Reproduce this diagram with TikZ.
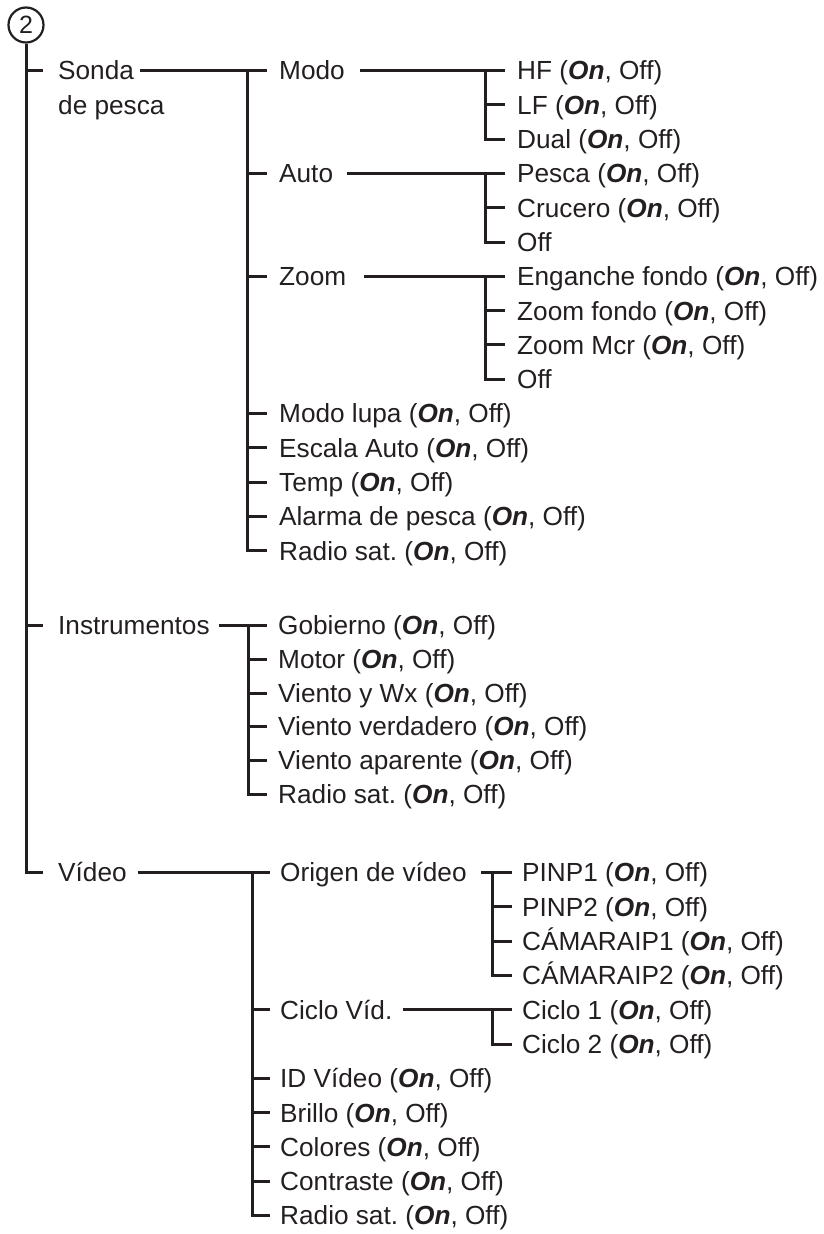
\documentclass[tikz,border=0pt]{standalone}
\usepackage{fontspec}
\setmainfont{Liberation Sans}
\definecolor{ink}{HTML}{231F20}
\newcommand\OnOff{(\textbf{\textit{On}}, Off)}
\frenchspacing
\begin{document}
\begin{tikzpicture}[x=1pt,y=-1pt,
  lbl/.style={anchor=west,inner sep=0pt,text height=18.8pt,text depth=0pt,
    text=ink,font=\fontsize{26.2}{31}\selectfont\frenchspacing},
  ln/.style={line width=3pt,draw=ink},
  numc/.style={circle,draw=ink,line width=2.2pt,minimum size=35pt,inner sep=0pt,
    text=ink,font=\fontsize{25}{28}\selectfont}
]
\useasboundingbox (0,0) rectangle (824,1234);

% root
\node[numc] (num) at (26,25) {2};

% level 1
\node[lbl] (sonda)  at (58,70.5) {Sonda};
\node[lbl] (sonda2) at (58,105) {de pesca};
\node[lbl] (instr)  at (58,625) {Instrumentos};
\node[lbl] (video)  at (58,872.5) {Vídeo};

% Sonda de pesca children
\node[lbl] (modo)   at (279,70.5)  {Modo};
\node[lbl] (auto)   at (279,173.4) {Auto};
\node[lbl] (zoom)   at (279,276.3) {Zoom};
\node[lbl] (lupa)   at (279,413.5) {Modo lupa \OnOff};
\node[lbl] (escala) at (279,447.8) {Escala Auto \OnOff};
\node[lbl] (temp)   at (279,482.1) {Temp \OnOff};
\node[lbl] (alarma) at (279,516.4) {Alarma de pesca \OnOff};
\node[lbl] (radioA) at (279,550.7) {Radio sat. \OnOff};

\node[lbl] (hf)      at (517,70.5)  {HF \OnOff};
\node[lbl] (lf)      at (517,104.8) {LF \OnOff};
\node[lbl] (dual)    at (517,139.1) {Dual \OnOff};
\node[lbl] (pesca)   at (517,173.4) {Pesca \OnOff};
\node[lbl] (crucero) at (517,207.7) {Crucero \OnOff};
\node[lbl] (offA)    at (517,242)   {Off};
\node[lbl] (eng)     at (517,276.3) {Enganche fondo \OnOff};
\node[lbl] (zf)      at (517,310.6) {Zoom fondo \OnOff};
\node[lbl] (zm)      at (517,344.9) {Zoom Mcr \OnOff};
\node[lbl] (offZ)    at (517,379.2) {Off};

% Instrumentos children
\node[lbl] (gob)    at (278,625)   {Gobierno \OnOff};
\node[lbl] (motor)  at (278,659)   {Motor \OnOff};
\node[lbl] (vwx)    at (278,693)   {Viento y Wx \OnOff};
\node[lbl] (vver)   at (278,726.5) {Viento verdadero \OnOff};
\node[lbl] (vap)    at (278,760.5) {Viento aparente \OnOff};
\node[lbl] (radioB) at (278,794.5) {Radio sat. \OnOff};

% Video children
\node[lbl] (origen)    at (280,872.5)  {Origen de vídeo};
\node[lbl] (ciclo)     at (280,1009.7) {Ciclo Víd.};
\node[lbl] (idv)       at (280,1078.3) {ID Vídeo \OnOff};
\node[lbl] (brillo)    at (280,1112.6) {Brillo \OnOff};
\node[lbl] (colores)   at (280,1146.9) {Colores \OnOff};
\node[lbl] (contraste) at (280,1181.2) {Contraste \OnOff};
\node[lbl] (radioC)    at (280,1215.5) {Radio sat. \OnOff};

\node[lbl] (pinp1) at (522,872.5)  {PINP1 \OnOff};
\node[lbl] (pinp2) at (522,906.8)  {PINP2 \OnOff};
\node[lbl] (cam1)  at (522,941.1)  {CÁMARAIP1 \OnOff};
\node[lbl] (cam2)  at (522,975.4)  {CÁMARAIP2 \OnOff};
\node[lbl] (c1)    at (522,1009.7) {Ciclo 1 \OnOff};
\node[lbl] (c2)    at (522,1044)   {Ciclo 2 \OnOff};

% ---- connectors ----
% trunk
\draw[ln] (num.south) |- ([xshift=-15pt]video.west);
\draw[ln] (num.south |- sonda.west) -- ([xshift=-15pt]sonda.west);
\draw[ln] (num.south |- instr.west) -- ([xshift=-15pt]instr.west);

% Sonda -> level 2
\draw[ln] ([xshift=6pt]sonda.east) -- ([xshift=-12pt]modo.west);
\draw[ln] ([xshift=-32pt]modo.west) |- ([xshift=-12pt]radioA.west);
\foreach \n in {auto,zoom,lupa,escala,temp,alarma}
  \draw[ln] ([xshift=-32pt]\n.west) -- ([xshift=-12pt]\n.west);

% Modo
\draw[ln] ([xshift=15pt]modo.east) -- ([xshift=-12pt]hf.west);
\draw[ln] ([xshift=-32pt]hf.west) |- ([xshift=-12pt]dual.west);
\draw[ln] ([xshift=-32pt]lf.west) -- ([xshift=-12pt]lf.west);
% Auto
\draw[ln] ([xshift=14pt]auto.east) -- ([xshift=-12pt]pesca.west);
\draw[ln] ([xshift=-32pt]pesca.west) |- ([xshift=-12pt]offA.west);
\draw[ln] ([xshift=-32pt]crucero.west) -- ([xshift=-12pt]crucero.west);
% Zoom
\draw[ln] ([xshift=18pt]zoom.east) -- ([xshift=-12pt]eng.west);
\draw[ln] ([xshift=-32pt]eng.west) |- ([xshift=-12pt]offZ.west);
\foreach \n in {zf,zm}
  \draw[ln] ([xshift=-32pt]\n.west) -- ([xshift=-12pt]\n.west);

% Instrumentos
\draw[ln] ([xshift=9pt]instr.east) -- ([xshift=-11pt]gob.west);
\draw[ln] ([xshift=-30pt]gob.west) |- ([xshift=-11pt]radioB.west);
\foreach \n in {motor,vwx,vver,vap}
  \draw[ln] ([xshift=-30pt]\n.west) -- ([xshift=-11pt]\n.west);

% Video
\draw[ln] ([xshift=11pt]video.east) -- ([xshift=-10pt]origen.west);
\draw[ln] ([xshift=-28pt]origen.west) |- ([xshift=-10pt]radioC.west);
\foreach \n in {ciclo,idv,brillo,colores,contraste}
  \draw[ln] ([xshift=-28pt]\n.west) -- ([xshift=-10pt]\n.west);

% Origen de video
\draw[ln] ([xshift=14pt]origen.east) -- ([xshift=-10pt]pinp1.west);
\draw[ln] ([xshift=-30pt]pinp1.west) |- ([xshift=-10pt]cam2.west);
\foreach \n in {pinp2,cam1}
  \draw[ln] ([xshift=-30pt]\n.west) -- ([xshift=-10pt]\n.west);

% Ciclo Vid.
\draw[ln] ([xshift=10pt]ciclo.east) -- ([xshift=-10pt]c1.west);
\draw[ln] ([xshift=-30pt]c1.west) |- ([xshift=-10pt]c2.west);
\end{tikzpicture}
\end{document}
